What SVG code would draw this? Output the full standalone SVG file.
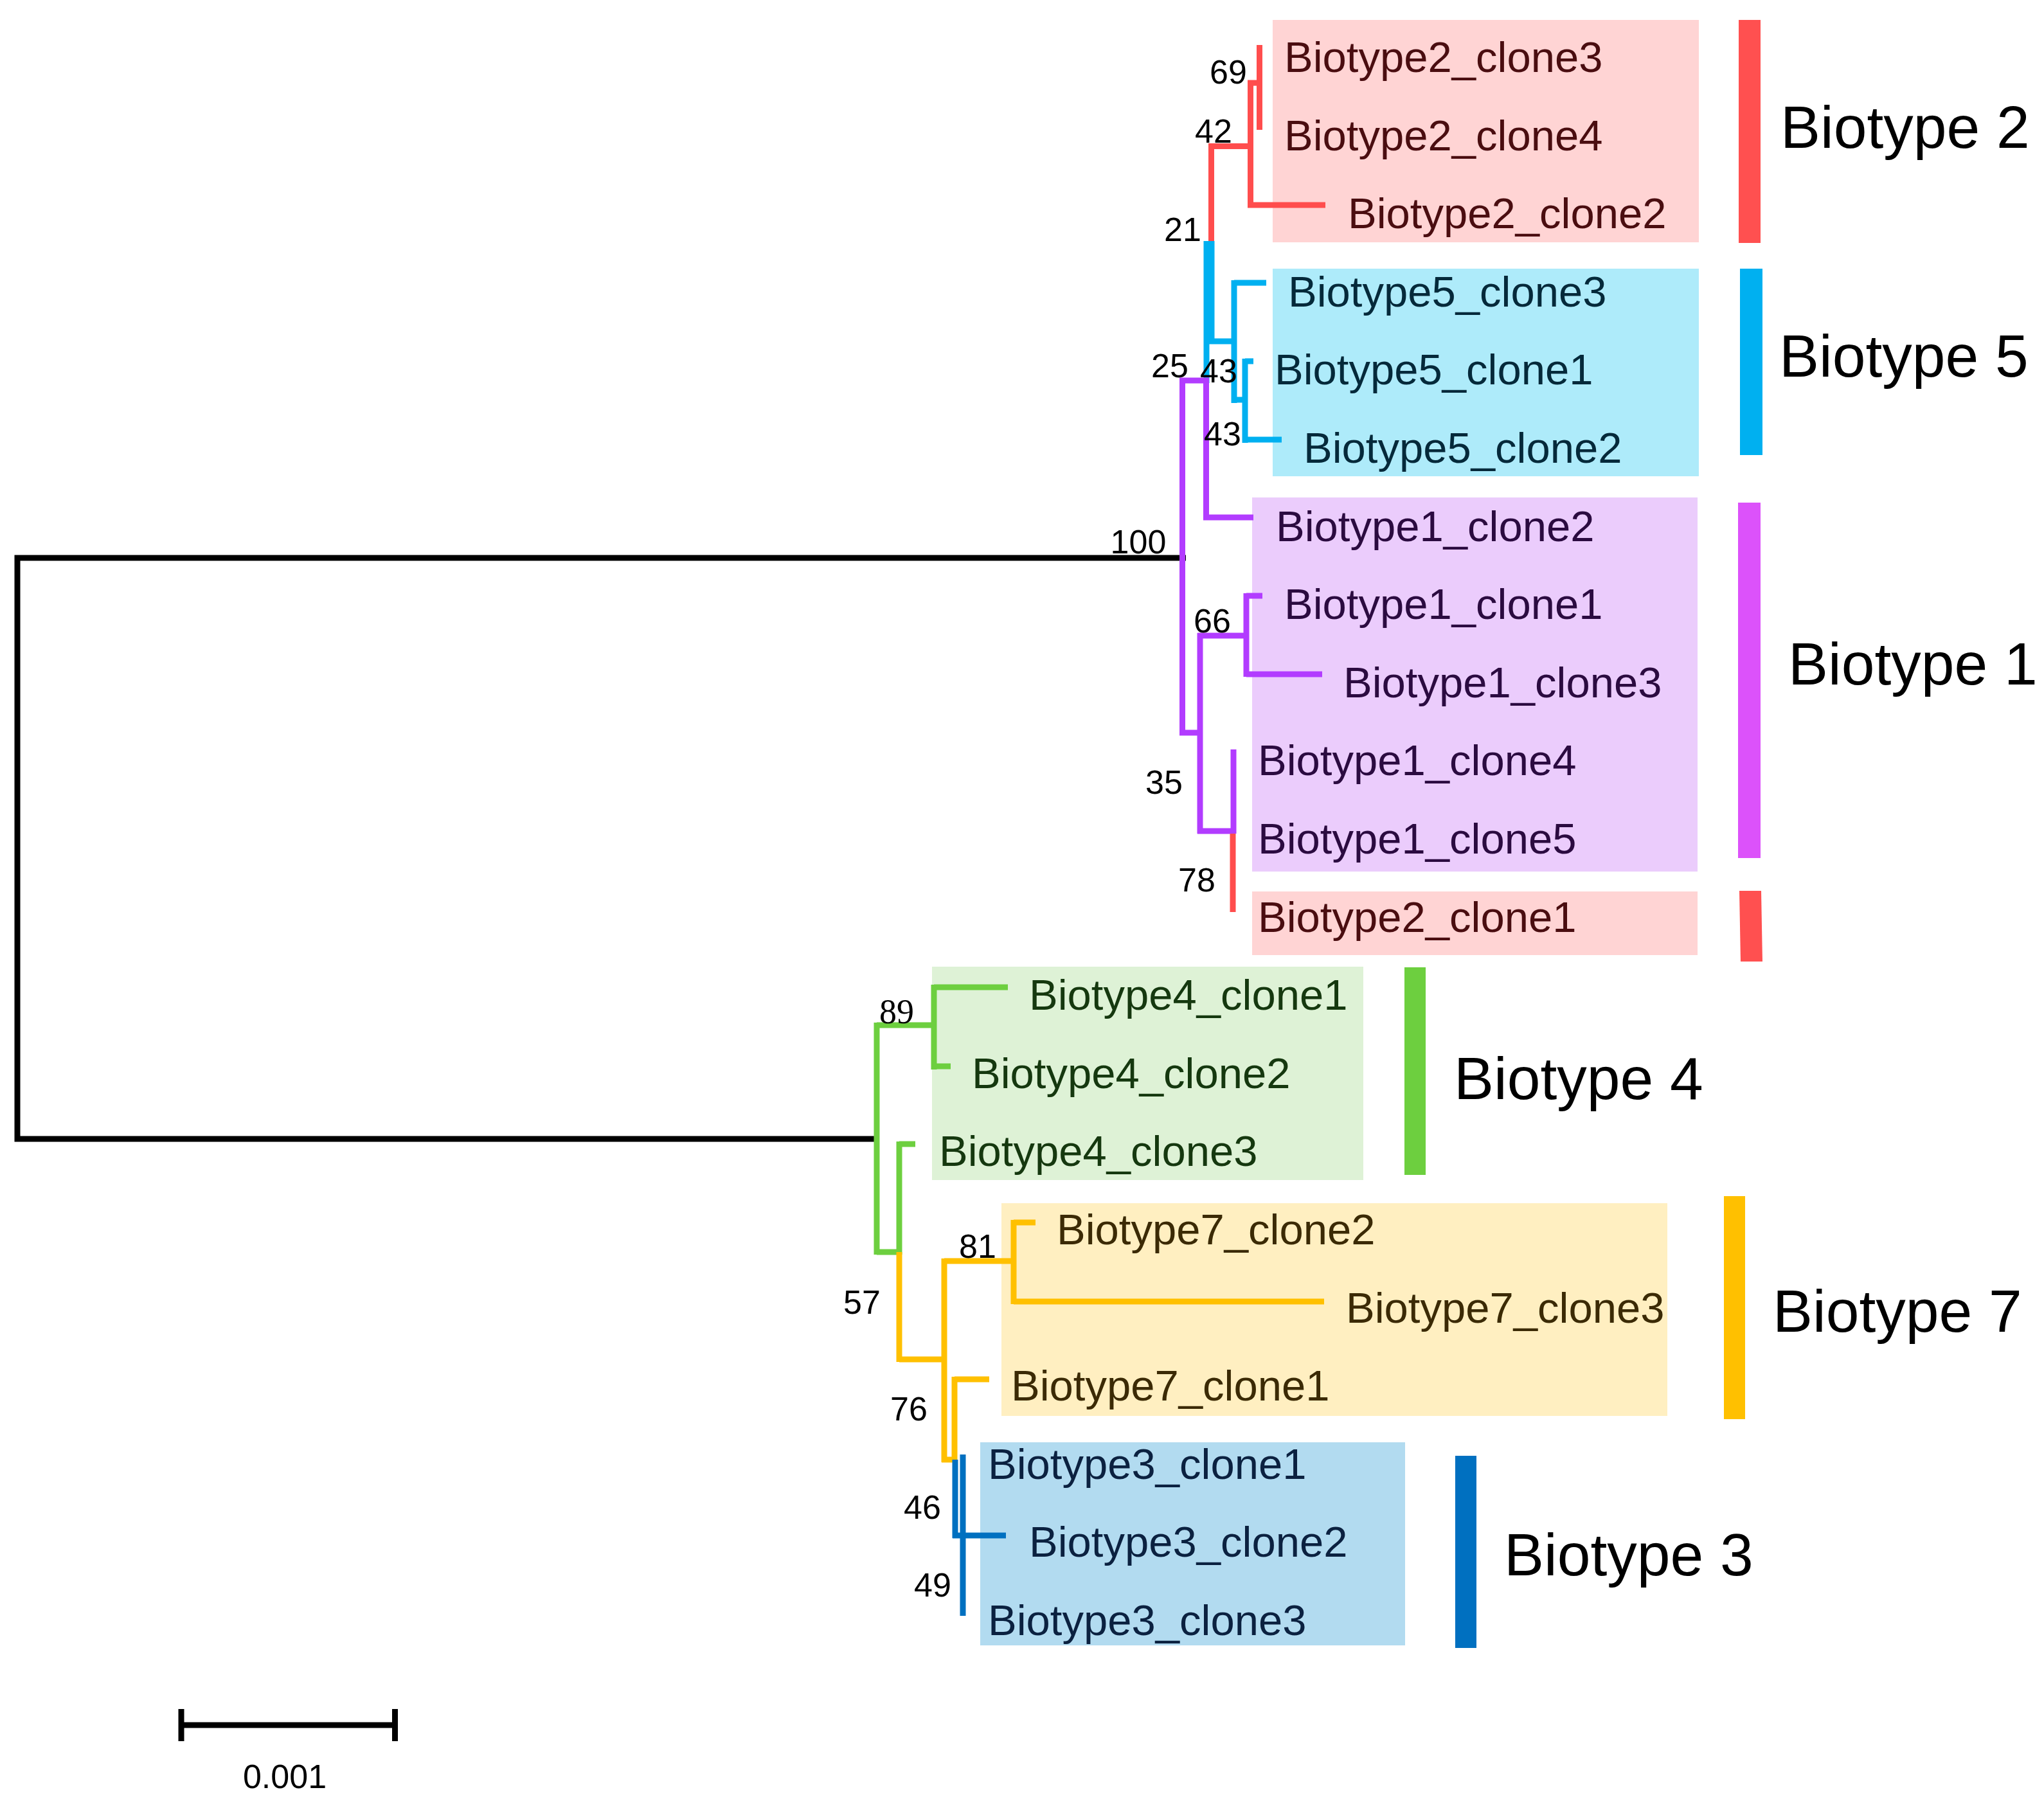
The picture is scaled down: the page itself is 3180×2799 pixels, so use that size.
<svg xmlns="http://www.w3.org/2000/svg" width="3180" height="2799" viewBox="0 0 3180 2799">
<style>
.leaf{font-family:"Liberation Sans",Arial,sans-serif;font-size:67px}
.big{font-family:"Liberation Sans",Arial,sans-serif;font-size:93px;fill:#000}
.bs{font-family:"Liberation Sans",Arial,sans-serif;font-size:52px;fill:#000;text-anchor:middle}
.bss{font-family:"Liberation Serif","Times New Roman",serif;font-size:54px;fill:#000;text-anchor:middle}
.br{fill:none;stroke-width:9;stroke-linecap:butt;stroke-linejoin:miter}
.k{stroke:#000}.r{stroke:#FF4D4D}.c{stroke:#00B0F0}.p{stroke:#B23CFF}.g{stroke:#6DCF3F}.y{stroke:#FFC000}.d{stroke:#0070C0}
.t2{fill:#4A0D10}.t5{fill:#05293A}.t1{fill:#2B0B40}.t4{fill:#15380F}.t7{fill:#3B2A05}.t3{fill:#0B2140}
</style>
<rect width="3180" height="2799" fill="#fff"/>
<g id="clade-boxes">
<rect id="box-b2a" x="1980" y="31" width="663" height="346" fill="#FFD4D4"/>
<rect id="box-b5" x="1980" y="418" width="663" height="323" fill="#AEEBFA"/>
<rect id="box-b1" x="1948" y="774" width="693" height="582" fill="#EBCCFC"/>
<rect id="box-b2b" x="1948" y="1387" width="693" height="99" fill="#FFD4D4"/>
<rect id="box-b4" x="1450" y="1504" width="671" height="332" fill="#DEF2D6"/>
<rect id="box-b7" x="1558" y="1872" width="1036" height="331" fill="#FFEFC1"/>
<rect id="box-b3" x="1525" y="2244" width="661" height="316" fill="#B2DBF0"/>
</g>
<g id="connectors">
<path class="br k" d="M1845,868 H27 V1772 H1368"/>
<path class="br r" d="M1959.5,70 V202 M2062,319 H1945.5 V129 H1959.5 M1950,227.5 H1884.5 V375"/>
<path class="br c" d="M1885,375 V531 M1877,375 V596 M1877,531 H1920 M1920,436 V627 M1920,440 H1970 M1920,622 H1937 M1937,558 V689 M1937,562 H1950 M1937,684 H1994"/>
<path class="br p" d="M1835,592 H1881 M1839.5,588 V1144 M1876.5,588 V809 M1872,805 H1950 M1835,1140 H1867 M1867,985 V1297 M1863,989 H1939 M1939,923 V1053 M1939,927 H1964 M1939,1049 H2057 M1863,1293 H1919 M1919,1166 V1297"/>
<path class="br r" d="M1918,1297 V1419"/>
<path class="br g" d="M1364,1591 V1952 M1364,1595 H1453 M1453,1532 V1664 M1453,1536 H1568 M1453,1659 H1479 M1364,1948 H1399 M1399,1776 V1952 M1399,1780 H1424"/>
<path class="br y" d="M1399,1948 V2119 M1399,2115 H1469 M1469,1958 V2275 M1469,1962 H1577 M1577,1898 V2029 M1577,1902 H1611 M1577,2025 H2060 M1465,2271 H1489 M1485,2142 V2275 M1485,2146 H1539"/>
<path class="br d" d="M1486,2271 V2393 M1498,2263 V2514 M1482,2389 H1565"/>
</g>
<g id="bootstrap">
<text class="bs" x="1911" y="130">69</text>
<text class="bs" x="1888" y="222">42</text>
<text class="bs" x="1840" y="375">21</text>
<text class="bs" x="1820" y="587">25</text>
<text class="bs" x="1896" y="595">43</text>
<text class="bs" x="1902" y="693">43</text>
<text class="bs" x="1771" y="861">100</text>
<text class="bs" x="1886" y="984">66</text>
<text class="bs" x="1811" y="1235">35</text>
<text class="bs" x="1862" y="1387">78</text>
<text class="bss" x="1395" y="1592">89</text>
<text class="bs" x="1521" y="1957">81</text>
<text class="bs" x="1341" y="2044">57</text>
<text class="bs" x="1414" y="2210">76</text>
<text class="bs" x="1435" y="2363">46</text>
<text class="bs" x="1451" y="2484">49</text>
</g>
<g id="leaf-b2c3"><text class="leaf t2" x="1998" y="112">Biotype2_clone3</text></g>
<g id="leaf-b2c4"><text class="leaf t2" x="1998" y="234">Biotype2_clone4</text></g>
<g id="leaf-b2c2"><text class="leaf t2" x="2097" y="355">Biotype2_clone2</text></g>
<g id="leaf-b5c3"><text class="leaf t5" x="2004" y="477">Biotype5_clone3</text></g>
<g id="leaf-b5c1"><text class="leaf t5" x="1983" y="598">Biotype5_clone1</text></g>
<g id="leaf-b5c2"><text class="leaf t5" x="2028" y="720">Biotype5_clone2</text></g>
<g id="leaf-b1c2"><text class="leaf t1" x="1985" y="842">Biotype1_clone2</text></g>
<g id="leaf-b1c1"><text class="leaf t1" x="1998" y="963">Biotype1_clone1</text></g>
<g id="leaf-b1c3"><text class="leaf t1" x="2090" y="1085">Biotype1_clone3</text></g>
<g id="leaf-b1c4"><text class="leaf t1" x="1957" y="1206">Biotype1_clone4</text></g>
<g id="leaf-b1c5"><text class="leaf t1" x="1957" y="1328">Biotype1_clone5</text></g>
<g id="leaf-b2c1"><text class="leaf t2" x="1957" y="1450">Biotype2_clone1</text></g>
<g id="leaf-b4c1"><text class="leaf t4" x="1601" y="1571">Biotype4_clone1</text></g>
<g id="leaf-b4c2"><text class="leaf t4" x="1512" y="1693">Biotype4_clone2</text></g>
<g id="leaf-b4c3"><text class="leaf t4" x="1461" y="1814">Biotype4_clone3</text></g>
<g id="leaf-b7c2"><text class="leaf t7" x="1644" y="1936">Biotype7_clone2</text></g>
<g id="leaf-b7c3"><text class="leaf t7" x="2094" y="2058">Biotype7_clone3</text></g>
<g id="leaf-b7c1"><text class="leaf t7" x="1573" y="2179">Biotype7_clone1</text></g>
<g id="leaf-b3c1"><text class="leaf t3" x="1537" y="2301">Biotype3_clone1</text></g>
<g id="leaf-b3c2"><text class="leaf t3" x="1601" y="2422">Biotype3_clone2</text></g>
<g id="leaf-b3c3"><text class="leaf t3" x="1537" y="2544">Biotype3_clone3</text></g>
<g id="legend-b2"><rect x="2705" y="31" width="34" height="347" fill="#FF5050"/><text class="big" x="2770" y="230">Biotype 2</text></g>
<g id="legend-b5"><rect x="2707" y="418" width="35" height="290" fill="#00B0F0"/><text class="big" x="2768" y="586">Biotype 5</text></g>
<g id="legend-b1"><rect x="2704" y="782" width="35" height="553" fill="#DC52FA"/><text class="big" x="2782" y="1065">Biotype 1</text></g>
<g id="legend-b2b"><polygon points="2706,1386 2740,1386 2742,1496 2708,1496" fill="#FF5050"/></g>
<g id="legend-b4"><rect x="2185" y="1505" width="33" height="323" fill="#6DCF3F"/><text class="big" x="2262" y="1710">Biotype 4</text></g>
<g id="legend-b7"><rect x="2682" y="1861" width="33" height="347" fill="#FFC000"/><text class="big" x="2758" y="2072">Biotype 7</text></g>
<g id="legend-b3"><rect x="2264" y="2265" width="33" height="299" fill="#0070C0"/><text class="big" x="2340" y="2451">Biotype 3</text></g>
<g id="scale-bar">
<path class="br k" d="M282,2684 H615 M282,2659 V2709 M614.5,2659 V2709" stroke-width="10"/>
<text class="bs" x="443" y="2782">0.001</text>
</g>
</svg>
